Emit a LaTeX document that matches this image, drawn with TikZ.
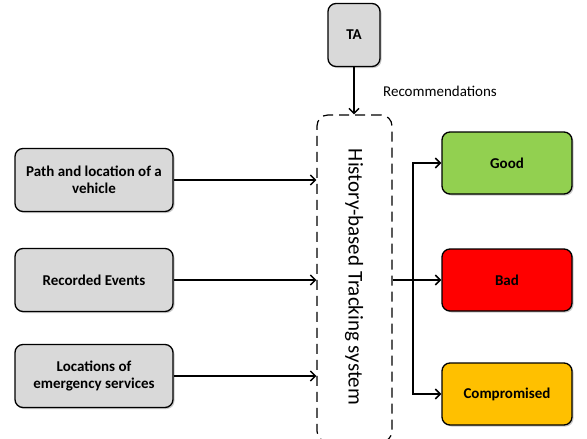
\documentclass[tikz,border=0pt]{standalone}
\usepackage{fontspec}
\setmainfont{Carlito}
\usetikzlibrary{arrows.meta,shadows}
\begin{document}
\begin{tikzpicture}[x=1pt,y=-1pt,
  box/.style={draw=black, line width=1.3pt, rounded corners=8pt, align=center,
    font=\bfseries\fontsize{15}{17}\selectfont, inner sep=2pt,
    drop shadow={shadow xshift=1.5pt, shadow yshift=-1.5pt, fill=black!35, opacity=.6}},
  inbox/.style={box, fill=graybox, minimum width=158pt, minimum height=63pt},
  outbox/.style={box, minimum width=130pt, minimum height=62pt},
  conn/.style={line width=1.5pt, -{Straight Barb[length=5pt,width=10pt,line width=1.5pt]}},
  plain/.style={line width=1.5pt}
]
\definecolor{graybox}{HTML}{D9D9D9}
\definecolor{goodgreen}{HTML}{92D050}
\definecolor{badred}{HTML}{FF0000}
\definecolor{compyellow}{HTML}{FFC000}
\useasboundingbox (0,0) rectangle (587,439);

\node[box, fill=graybox, minimum width=52pt, minimum height=63pt] (ta) at (354,35) {TA};
\node[font=\fontsize{15}{17}\selectfont] (rec) at (440,91) {Recommendations};

\begin{scope}
\clip (0,0) rectangle (587,439);
\node[draw=black, line width=1.2pt, dash pattern=on 10pt off 6pt, rounded corners=11pt,
  minimum width=75pt, minimum height=327pt] (hbts) at (354.5,278.5) {};
\end{scope}
\node[rotate=-90, font=\fontsize{21}{23}\selectfont] (hbtslabel) at (354,277) {History-based Tracking system};

\node[inbox] (path) at (94,180) {Path and location of a\\vehicle};
\node[inbox] (events) at (94,280) {Recorded Events};
\node[inbox] (loc) at (94,376) {Locations of\\emergency services};

\node[outbox, fill=goodgreen] (good) at (507,163) {Good};
\node[outbox, fill=badred] (bad) at (507,280) {Bad};
\node[outbox, fill=compyellow] (comp) at (507,394) {Compromised};

\draw[conn] (ta.south) -- (ta.south |- hbts.north);
\draw[conn] (path.east) -- (path.east -| hbts.west);
\draw[conn] (events.east) -- (events.east -| hbts.west);
\draw[conn] (loc.east) -- (loc.east -| hbts.west);

\coordinate (split) at (413,280);
\draw[plain] (hbts.east |- bad.west) -- (split);
\draw[conn] (split) |- (good.west);
\draw[conn] (split) -- (bad.west);
\draw[conn] (split) |- (comp.west);
\end{tikzpicture}
\end{document}
